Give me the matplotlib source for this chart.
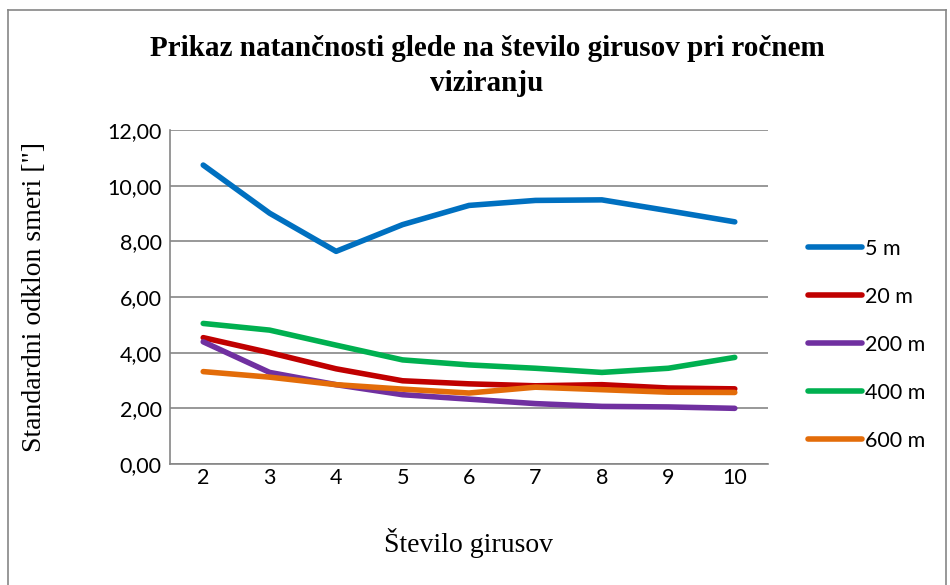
import matplotlib.pyplot as plt
from matplotlib.lines import Line2D
from matplotlib.ticker import FuncFormatter

# Data
girusi = [2, 3, 4, 5, 6, 7, 8, 9, 10]
s_5m = [10.74, 9.01, 7.64, 8.60, 9.29, 9.47, 9.49, 9.10, 8.70]
s_20m = [4.54, 4.00, 3.42, 2.99, 2.88, 2.81, 2.85, 2.73, 2.70]
s_200m = [4.39, 3.29, 2.85, 2.49, 2.33, 2.17, 2.07, 2.05, 2.00]
s_400m = [5.05, 4.81, 4.27, 3.74, 3.56, 3.44, 3.29, 3.44, 3.83]
s_600m = [3.32, 3.12, 2.85, 2.69, 2.55, 2.76, 2.67, 2.58, 2.57]

labels = ["5 m", "20 m", "200 m", "400 m", "600 m"]
colors = ["#0070C0", "#C00000", "#7030A0", "#00B050", "#E36C09"]

serif = "Liberation Serif"
sans = "Lato"

fig = plt.figure(figsize=(9.5, 5.85), dpi=100)
ax = fig.add_axes([170 / 950, 1 - 464 / 585, 598 / 950, 334 / 585])

for vals, lab, col in zip([s_5m, s_20m, s_200m, s_400m, s_600m], labels, colors):
    ax.plot(girusi, vals, color=col, lw=4, label=lab, solid_capstyle="round")

ax.set_xlim(1.5, 10.5)
ax.set_ylim(0, 12)
ax.set_yticks(range(0, 13, 2))
ax.set_xticks(girusi)
ax.yaxis.set_major_formatter(FuncFormatter(lambda v, p: f"{v:.2f}".replace(".", ",")))
ax.grid(axis="y", color="#868686", lw=1.2)
ax.set_axisbelow(True)
ax.tick_params(length=0, labelsize=15.5)
ax.tick_params(axis="x", pad=3)
ax.tick_params(axis="y", pad=6)
for lbl in ax.get_xticklabels() + ax.get_yticklabels():
    lbl.set_fontfamily(sans)
for s in ["top", "right"]:
    ax.spines[s].set_visible(False)
for s in ["left", "bottom"]:
    ax.spines[s].set_color("#868686")
    ax.spines[s].set_linewidth(1.2)

ax.set_xlabel("Število girusov", fontfamily=serif, fontsize=20, va="center")
ax.set_ylabel('Standardni odklon smeri ["]', fontfamily=serif, fontsize=20, va="center")
ax.xaxis.set_label_coords((468 - 170) / 598, (464 - 543) / 334)
ax.yaxis.set_label_coords((35 - 170) / 598, 0.5)

fig.text(487 / 950, 1 - 66 / 585,
         "Prikaz natančnosti glede na število girusov pri ročnem\nviziranju",
         ha="center", va="center", fontfamily=serif, fontweight="bold",
         fontsize=21, linespacing=1.35)

ax.legend(loc="center left", bbox_to_anchor=(1.035, (464 - 345) / 334), frameon=False,
          prop={"family": sans, "size": 15.5}, handlelength=2.5, handletextpad=0.15,
          labelspacing=1.3)

# outer chart border
for xs, ys in [([8, 8], [10, 585]), ([8, 946], [10, 10]), ([946, 946], [10, 585])]:
    fig.add_artist(Line2D([x / 950 for x in xs], [1 - y / 585 for y in ys],
                          color="#868686", lw=1.2))

fig.savefig("out.png", dpi=100)
